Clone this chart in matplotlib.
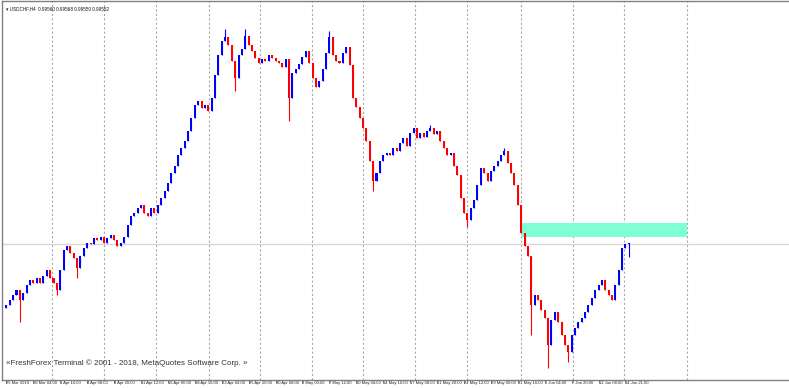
import matplotlib
matplotlib.use("Agg")
import matplotlib.pyplot as plt
import matplotlib.transforms as mtransforms
from matplotlib.patches import Rectangle

# USDCHF H4 closes (one candle per two H4 bars)
closes = [
    0.9876, 0.9882, 0.9889, 0.9895, 0.9882, 0.9892, 0.9902, 0.9908, 0.9904, 0.9911,
    0.9905, 0.9913, 0.9921, 0.9911, 0.9905, 0.9895, 0.9921, 0.9947, 0.9953, 0.9944,
    0.9937, 0.9924, 0.9940, 0.9950, 0.9957, 0.9955, 0.9963, 0.9960, 0.9965, 0.9957,
    0.9963, 0.9967, 0.9960, 0.9953, 0.9957, 0.9965, 0.9980, 0.9992, 0.9996, 1.0002,
    1.0006, 0.9996, 0.9992, 1.0002, 0.9996, 1.0006, 1.0015, 1.0025, 1.0035, 1.0048,
    1.0057, 1.0071, 1.0080, 1.0090, 1.0103, 1.0119, 1.0136, 1.0142, 1.0132, 1.0137,
    1.0129, 1.0145, 1.0175, 1.0201, 1.0220, 1.0225, 1.0214, 1.0194, 1.0171, 1.0201,
    1.0210, 1.0227, 1.0214, 1.0207, 1.0198, 1.0191, 1.0197, 1.0194, 1.0201, 1.0198,
    1.0194, 1.0191, 1.0186, 1.0197, 1.0145, 1.0178, 1.0184, 1.0190, 1.0199, 1.0207,
    1.0191, 1.0171, 1.0160, 1.0168, 1.0184, 1.0204, 1.0225, 1.0201, 1.0194, 1.0191,
    1.0204, 1.0212, 1.0188, 1.0145, 1.0134, 1.0119, 1.0106, 1.0090, 1.0064, 1.0038,
    1.0048, 1.0064, 1.0071, 1.0074, 1.0071, 1.0080, 1.0077, 1.0087, 1.0093, 1.0083,
    1.0100, 1.0106, 1.0093, 1.0100, 1.0095, 1.0103, 1.0106, 1.0098, 1.0103, 1.0090,
    1.0080, 1.0071, 1.0074, 1.0057, 1.0045, 1.0015, 0.9996, 0.9986, 1.0002, 1.0012,
    1.0032, 1.0054, 1.0048, 1.0038, 1.0051, 1.0057, 1.0064, 1.0071, 1.0077, 1.0061,
    1.0048, 1.0032, 1.0006, 0.9970, 0.9953, 0.9940, 0.9876, 0.9889, 0.9882, 0.9869,
    0.9859, 0.9824, 0.9856, 0.9866, 0.9853, 0.9837, 0.9824, 0.9814, 0.9837, 0.9846,
    0.9853, 0.9859, 0.9866, 0.9876, 0.9885, 0.9895, 0.9902, 0.9908, 0.9895, 0.9889,
    0.9882, 0.9902, 0.9921, 0.9950, 0.9955, 0.9956,
]
first_open = 0.9872

# long shadows that stick out of the bodies
spike_lows = {4: 0.9853, 15: 0.9889, 21: 0.9911, 68: 1.0155, 84: 1.0116, 109: 1.0025,
              137: 0.9978, 156: 0.9837, 161: 0.9794, 167: 0.9801, 185: 0.9938}
spike_highs = {65: 1.0236, 71: 1.0236, 96: 1.0233, 126: 1.0110, 148: 1.0081}

date_labels = ["25 Mar 2019", "28 Mar 04:00", "1 Apr 16:00", "4 Apr 08:00", "8 Apr 20:00",
               "11 Apr 12:00", "16 Apr 00:00", "18 Apr 16:00", "23 Apr 04:00", "25 Apr 20:00",
               "30 Apr 08:00", "3 May 00:00", "7 May 12:00", "10 May 04:00", "14 May 16:00",
               "17 May 08:00", "21 May 20:00", "24 May 12:00", "29 May 00:00", "31 May 16:00",
               "5 Jun 04:00", "7 Jun 20:00", "12 Jun 08:00", "14 Jun 21:00"]
week_lines = [13.6, 29.0, 44.4, 60.1, 75.3, 90.7, 106.1, 121.5, 136.9, 152.9, 168.3, 183.7, 202.4]

bid = 0.9955
zone_lo, zone_hi = 0.9965, 0.9982
zone_x0, zone_x1 = 152.9, 202.4

opens = [first_open] + closes[:-1]

fig = plt.figure(figsize=(7.89, 3.88), dpi=100)
ax = fig.add_axes([0.003, 8 / 388, 0.997, 379 / 388])
ax.set_xlim(-1.2, 232.6)
ax.set_ylim(0.9778, 1.0272)

for x in week_lines:
    ax.axvline(x, color="#a8a8a8", lw=0.8, ls=(0, (2, 2)), zorder=1)
ax.axhline(bid, color="#d8d8d8", lw=1.0, zorder=1)
ax.add_patch(Rectangle((zone_x0, zone_lo), zone_x1 - zone_x0, zone_hi - zone_lo,
                       facecolor="#7fffd4", edgecolor="none", zorder=2))

for i, (o, c) in enumerate(zip(opens, closes)):
    col = "#0000ff" if c >= o else "#ff0000"
    hi = spike_highs.get(i, max(o, c))
    lo = spike_lows.get(i, min(o, c))
    ax.vlines(i, lo, hi, color=col, lw=0.8, zorder=3)
    ax.bar(i, abs(c - o), bottom=min(o, c), width=0.6, color=col, lw=0, zorder=4)

ax.set_xticks(range(0, 8 * len(date_labels), 8))
ax.set_xticklabels(date_labels, fontsize=3.0, family="Liberation Sans", color="#222222")
shift = mtransforms.ScaledTranslation(1.5 / 100, 0, fig.dpi_scale_trans)
for lbl in ax.get_xticklabels():
    lbl.set_ha("left")
    lbl.set_transform(lbl.get_transform() + shift)
ax.tick_params(axis="x", length=2.2, width=0.5, color="#444444", pad=-1.6)
ax.set_yticks([])
for s in ax.spines.values():
    s.set_color("#808080")
    s.set_linewidth(1.0)
ax.spines["right"].set_visible(False)

ax.text(0.004, 0.985, "\u25be USDCHF,H4  0.99560 0.99568 0.99550 0.99552", transform=ax.transAxes,
        fontsize=3.3, family=["Liberation Sans", "DejaVu Sans"], va="top", ha="left", color="#111111")
ax.text(0.004, 0.035, "\u00abFreshForex Terminal \u00a9 2001 - 2018, MetaQuotes Software Corp. \u00bb",
        transform=ax.transAxes, fontsize=5.8, family="Liberation Sans", va="bottom", ha="left",
        color="#333333")

fig.savefig("out.png", dpi=100)
